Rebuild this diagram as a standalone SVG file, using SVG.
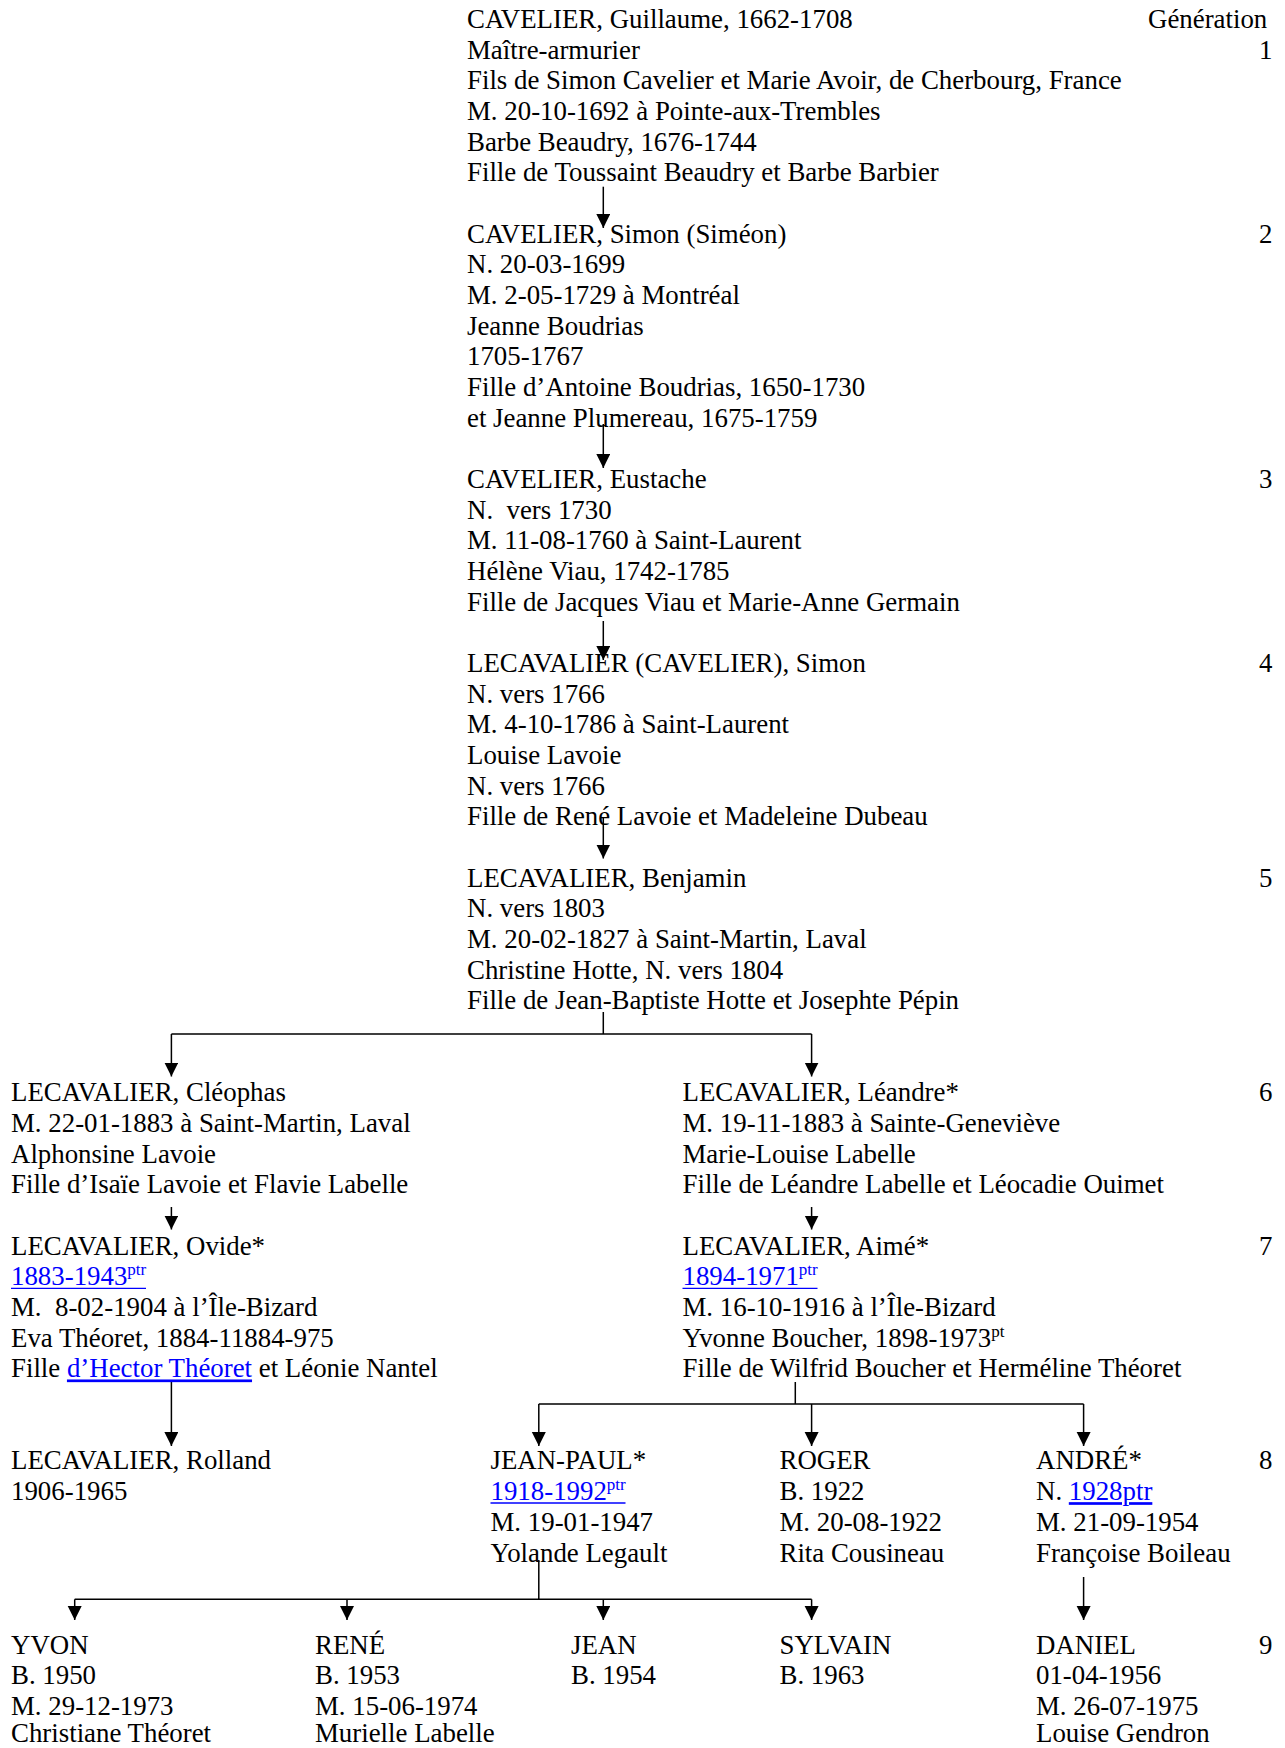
<svg xmlns="http://www.w3.org/2000/svg" width="1285" height="1748" viewBox="0 0 1285 1748">
<style>
text { font-family: "Liberation Serif", "Times New Roman", serif; font-size: 26.85px; fill: #000; }
.link { fill: #0000FF; }
.u { text-decoration: underline; }
.sup { font-size: 17px; }
.conn { stroke: #000; stroke-width: 1.5; fill: none; }
.arr { stroke: #000; stroke-width: 1.5; fill: none; marker-end: url(#ah); }
.ul { stroke: #0000FF; stroke-width: 1.3; }
</style>
<defs>
<marker id="ah" markerUnits="userSpaceOnUse" markerWidth="15" markerHeight="15" refX="14" refY="7" orient="auto" viewBox="0 0 15 15">
<path d="M0,0 L14,7 L0,14 Z" fill="#000"/>
</marker>
</defs>
<rect width="1285" height="1748" fill="#fff"/>

<g id="generation-labels">
<text x="1148" y="28">Génération</text>
<text x="1259" y="58.67">1</text>
<text x="1259" y="242.69">2</text>
<text x="1259" y="488.05">3</text>
<text x="1259" y="672.07">4</text>
<text x="1259" y="886.76">5</text>
<text x="1259" y="1101.45">6</text>
<text x="1259" y="1254.8">7</text>
<text x="1259" y="1469.49">8</text>
<text x="1259" y="1653.51">9</text>
</g>

<g id="connectors">
<line class="arr" x1="603.3" y1="186.7" x2="603.3" y2="228"/>
<line class="arr" x1="603.3" y1="424" x2="603.3" y2="468"/>
<line class="arr" x1="603.3" y1="621" x2="603.3" y2="660"/>
<line class="arr" x1="603.3" y1="817" x2="603.3" y2="858.5"/>
<path class="conn" d="M603.3,1012 V1034 M171.4,1034 H811.6"/>
<line class="arr" x1="171.4" y1="1034" x2="171.4" y2="1076.5"/>
<line class="arr" x1="811.6" y1="1034" x2="811.6" y2="1076.5"/>
<line class="arr" x1="171.4" y1="1207" x2="171.4" y2="1229.5"/>
<line class="arr" x1="811.6" y1="1207" x2="811.6" y2="1229.5"/>
<line class="arr" x1="171.4" y1="1382" x2="171.4" y2="1446"/>
<path class="conn" d="M795.3,1382 V1404 M538.8,1404 H1083.6"/>
<line class="arr" x1="538.8" y1="1404" x2="538.8" y2="1446"/>
<line class="arr" x1="811.6" y1="1404" x2="811.6" y2="1446"/>
<line class="arr" x1="1083.6" y1="1404" x2="1083.6" y2="1446"/>
<line class="arr" x1="1083.6" y1="1577" x2="1083.6" y2="1620"/>
<path class="conn" d="M538.8,1560 V1599.3 M74.7,1599.3 H811.6"/>
<line class="arr" x1="74.7" y1="1599.3" x2="74.7" y2="1620"/>
<line class="arr" x1="347" y1="1599.3" x2="347" y2="1620"/>
<line class="arr" x1="603.3" y1="1599.3" x2="603.3" y2="1620"/>
<line class="arr" x1="811.6" y1="1599.3" x2="811.6" y2="1620"/>
</g>

<g id="guillaume">
<text x="467" y="28">CAVELIER, Guillaume, 1662-1708</text>
<text x="467" y="58.67">Maître-armurier</text>
<text x="467" y="89.34">Fils de Simon Cavelier et Marie Avoir, de Cherbourg, France</text>
<text x="467" y="120.01">M. 20-10-1692 à Pointe-aux-Trembles</text>
<text x="467" y="150.68">Barbe Beaudry, 1676-1744</text>
<text x="467" y="181.35">Fille de Toussaint Beaudry et Barbe Barbier</text>
</g>

<g id="simon">
<text x="467" y="242.69">CAVELIER, Simon (Siméon)</text>
<text x="467" y="273.36">N. 20-03-1699</text>
<text x="467" y="304.03">M. 2-05-1729 à Montréal</text>
<text x="467" y="334.7">Jeanne Boudrias</text>
<text x="467" y="365.37">1705-1767</text>
<text x="467" y="396.04">Fille d’Antoine Boudrias, 1650-1730</text>
<text x="467" y="426.71">et Jeanne Plumereau, 1675-1759</text>
</g>

<g id="eustache">
<text x="467" y="488.05">CAVELIER, Eustache</text>
<text x="467" y="518.72">N.&#160; vers 1730</text>
<text x="467" y="549.39">M. 11-08-1760 à Saint-Laurent</text>
<text x="467" y="580.06">Hélène Viau, 1742-1785</text>
<text x="467" y="610.73">Fille de Jacques Viau et Marie-Anne Germain</text>
</g>

<g id="simon-lecavalier">
<text x="467" y="672.07">LECAVALIER (CAVELIER), Simon</text>
<text x="467" y="702.74">N. vers 1766</text>
<text x="467" y="733.41">M. 4-10-1786 à Saint-Laurent</text>
<text x="467" y="764.08">Louise Lavoie</text>
<text x="467" y="794.75">N. vers 1766</text>
<text x="467" y="825.42">Fille de René Lavoie et Madeleine Dubeau</text>
</g>

<g id="benjamin">
<text x="467" y="886.76">LECAVALIER, Benjamin</text>
<text x="467" y="917.43">N. vers 1803</text>
<text x="467" y="948.1">M. 20-02-1827 à Saint-Martin, Laval</text>
<text x="467" y="978.77">Christine Hotte, N. vers 1804</text>
<text x="467" y="1009.44">Fille de Jean-Baptiste Hotte et Josephte Pépin</text>
</g>

<g id="cleophas">
<text x="11" y="1101.45">LECAVALIER, Cléophas</text>
<text x="11" y="1132.12">M. 22-01-1883 à Saint-Martin, Laval</text>
<text x="11" y="1162.79">Alphonsine Lavoie</text>
<text x="11" y="1193.46">Fille d’Isaïe Lavoie et Flavie Labelle</text>
</g>

<g id="leandre">
<text x="682.5" y="1101.45">LECAVALIER, Léandre*</text>
<text x="682.5" y="1132.12">M. 19-11-1883 à Sainte-Geneviève</text>
<text x="682.5" y="1162.79">Marie-Louise Labelle</text>
<text x="682.5" y="1193.46">Fille de Léandre Labelle et Léocadie Ouimet</text>
</g>

<g id="ovide">
<text x="11" y="1254.8">LECAVALIER, Ovide*</text>
<text x="11" y="1285.47" class="link">1883-1943<tspan class="sup" dy="-10">ptr</tspan></text>
<line class="ul" x1="11" y1="1288.3" x2="146" y2="1288.3"/>
<text x="11" y="1316.14">M.&#160; 8-02-1904 à l’Île-Bizard</text>
<text x="11" y="1346.81">Eva Théoret, 1884-11884-975</text>
<text x="11" y="1377.48">Fille <tspan class="link u">d’Hector Théoret</tspan> et Léonie Nantel</text>
</g>

<g id="aime">
<text x="682.5" y="1254.8">LECAVALIER, Aimé*</text>
<text x="682.5" y="1285.47" class="link">1894-1971<tspan class="sup" dy="-10">ptr</tspan></text>
<line class="ul" x1="682.5" y1="1288.3" x2="817.5" y2="1288.3"/>
<text x="682.5" y="1316.14">M. 16-10-1916 à l’Île-Bizard</text>
<text x="682.5" y="1346.81">Yvonne Boucher, 1898-1973<tspan class="sup" dy="-10">pt</tspan></text>
<text x="682.5" y="1377.48">Fille de Wilfrid Boucher et Herméline Théoret</text>
</g>

<g id="rolland">
<text x="11" y="1469.49">LECAVALIER, Rolland</text>
<text x="11" y="1500.16">1906-1965</text>
</g>

<g id="jean-paul">
<text x="490.5" y="1469.49">JEAN-PAUL*</text>
<text x="490.5" y="1500.16" class="link">1918-1992<tspan class="sup" dy="-10">ptr</tspan></text>
<line class="ul" x1="490.5" y1="1503" x2="625.5" y2="1503"/>
<text x="490.5" y="1530.83">M. 19-01-1947</text>
<text x="490.5" y="1561.5">Yolande Legault</text>
</g>

<g id="roger">
<text x="779.5" y="1469.49">ROGER</text>
<text x="779.5" y="1500.16">B. 1922</text>
<text x="779.5" y="1530.83">M. 20-08-1922</text>
<text x="779.5" y="1561.5">Rita Cousineau</text>
</g>

<g id="andre">
<text x="1036" y="1469.49">ANDRÉ*</text>
<text x="1036" y="1500.16">N. <tspan class="link u">1928ptr</tspan></text>
<text x="1036" y="1530.83">M. 21-09-1954</text>
<text x="1036" y="1561.5">Françoise Boileau</text>
</g>

<g id="yvon">
<text x="11" y="1653.51">YVON</text>
<text x="11" y="1684.18">B. 1950</text>
<text x="11" y="1714.85">M. 29-12-1973</text>
<text x="11" y="1741.5">Christiane Théoret</text>
</g>

<g id="rene">
<text x="315" y="1653.51">RENÉ</text>
<text x="315" y="1684.18">B. 1953</text>
<text x="315" y="1714.85">M. 15-06-1974</text>
<text x="315" y="1741.5">Murielle Labelle</text>
</g>

<g id="jean">
<text x="571" y="1653.51">JEAN</text>
<text x="571" y="1684.18">B. 1954</text>
</g>

<g id="sylvain">
<text x="779.5" y="1653.51">SYLVAIN</text>
<text x="779.5" y="1684.18">B. 1963</text>
</g>

<g id="daniel">
<text x="1036" y="1653.51">DANIEL</text>
<text x="1036" y="1684.18">01-04-1956</text>
<text x="1036" y="1714.85">M. 26-07-1975</text>
<text x="1036" y="1741.5">Louise Gendron</text>
</g>
</svg>
